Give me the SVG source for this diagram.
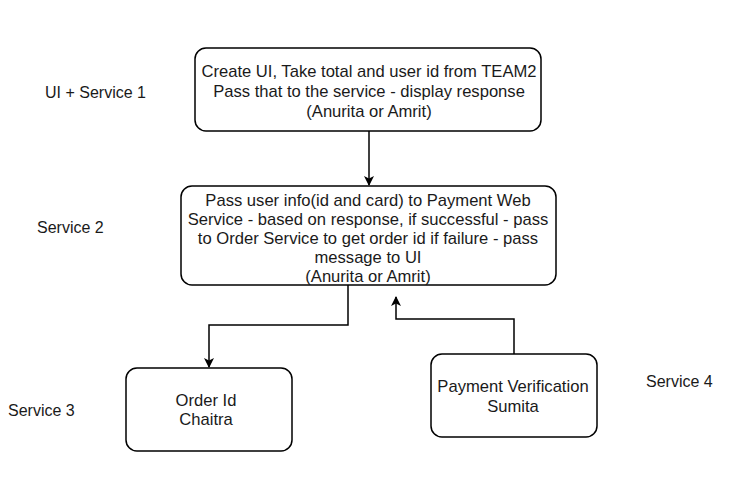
<svg xmlns="http://www.w3.org/2000/svg" width="750" height="501" viewBox="0 0 750 501">
<defs>
<style>
.box{fill:#fff;stroke:#000;stroke-width:1.5}
text{font-family:"Liberation Sans",Arial,Helvetica,sans-serif;font-size:16px;fill:#1a1a1a}
.c{text-anchor:middle;font-size:16.6px}
.edge{fill:none;stroke:#000;stroke-width:1.5}
</style>
<marker id="ah" viewBox="0 0 10 10" refX="9" refY="5" markerWidth="10" markerHeight="10" markerUnits="userSpaceOnUse" orient="auto">
<path d="M0,0 L10,5 L0,10 L2.5,5 Z" fill="#000"/>
</marker>
</defs>
<rect width="750" height="501" fill="#fff"/>
<g id="label-s1"><text x="45" y="98">UI + Service 1</text></g>
<g id="label-s2"><text x="37" y="233">Service 2</text></g>
<g id="label-s3"><text x="8" y="416">Service 3</text></g>
<g id="label-s4"><text x="646" y="387">Service 4</text></g>
<g id="node-ui">
<rect class="box" x="195" y="48" width="346" height="83" rx="11"/>
<text class="c" x="369" y="77">Create UI, Take total and user id from TEAM2</text>
<text class="c" x="369" y="97">Pass that to the service - display response</text>
<text class="c" x="369" y="117">(Anurita or Amrit)</text>
</g>
<g id="node-s2">
<rect class="box" x="181" y="186" width="375" height="99" rx="11"/>
<text class="c" x="368" y="206">Pass user info(id and card) to Payment Web</text>
<text class="c" x="368" y="225">Service - based on response, if successful - pass</text>
<text class="c" x="368" y="244">to Order Service to get order id if failure - pass</text>
<text class="c" x="368" y="263">message to UI</text>
<text class="c" x="368" y="282">(Anurita or Amrit)</text>
</g>
<g id="node-order">
<rect class="box" x="126" y="368" width="166" height="83" rx="11"/>
<text class="c" x="206" y="406">Order Id</text>
<text class="c" x="206" y="425">Chaitra</text>
</g>
<g id="node-payment">
<rect class="box" x="431" y="354" width="166" height="83" rx="11"/>
<text class="c" x="513" y="392">Payment Verification</text>
<text class="c" x="513" y="412">Sumita</text>
</g>
<g id="connectors">
<path class="edge" d="M369,131 L369,185" marker-end="url(#ah)"/>
<path class="edge" d="M348,285 L348,325 L209,325 L209,367" marker-end="url(#ah)"/>
<path class="edge" d="M514,354 L514,319 L396,319 L396,297" marker-end="url(#ah)"/>
</g>
</svg>
